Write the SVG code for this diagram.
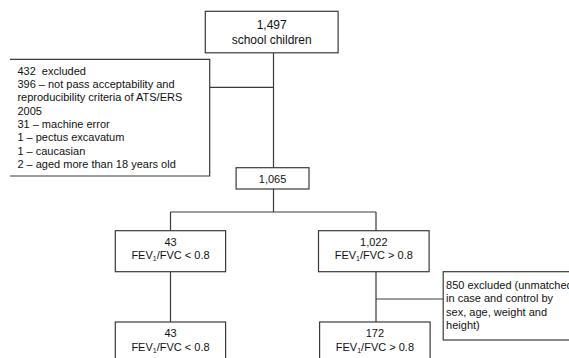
<svg xmlns="http://www.w3.org/2000/svg" width="569" height="358" viewBox="0 0 569 358">
<style>
.box{fill:#fff;stroke:#3a3a3a;stroke-width:1.2}
.ln{fill:none;stroke:#3a3a3a;stroke-width:1.2}
text{font-family:"Liberation Sans",Arial,sans-serif;font-size:11px;fill:#111}
.c{text-anchor:middle}
.sub{font-size:7px}
</style>
<rect width="569" height="358" fill="#fff"/>
<g id="connectors">
<path class="ln" d="M273.5,53V168M209.7,87.3H273.5M273.5,189V212M170.5,212H376M170.5,212V231M376,212V231M170.5,272V322M376,272V322M376,299H443.2"/>
</g>
<g id="n1497">
<rect class="box" x="205.3" y="11.3" width="132.8" height="41.5"/>
<text class="c" x="271.7" y="29.3" style="font-size:12px">1,497</text>
<text class="c" x="271.7" y="43.5" style="font-size:12px">school children</text>
</g>
<g id="excluded432">
<path class="box" d="M10,59.3H209.7V176H10"/>
<text x="17.4" y="74.7" xml:space="preserve">432  excluded</text>
<text x="17.4" y="88">396 – not pass acceptability and</text>
<text x="17.4" y="101.3">reproducibility criteria of ATS/ERS</text>
<text x="17.4" y="114.7">2005</text>
<text x="17.4" y="128">31 – machine error</text>
<text x="17.4" y="141.3">1 – pectus excavatum</text>
<text x="17.4" y="154.7">1 – caucasian</text>
<text x="17.4" y="168">2 – aged more than 18 years old</text>
</g>
<g id="n1065">
<rect class="box" x="236.1" y="167.7" width="72.9" height="21.3"/>
<text class="c" x="272.6" y="182.7">1,065</text>
</g>
<g id="n43a">
<rect class="box" x="115.3" y="230.7" width="110.3" height="41"/>
<text class="c" x="170.5" y="245.6">43</text>
<text class="c" x="170.5" y="259">FEV<tspan class="sub" dy="2">1</tspan><tspan dy="-2">/FVC &lt; 0.8</tspan></text>
</g>
<g id="n1022">
<rect class="box" x="318.5" y="230.7" width="110.6" height="41"/>
<text class="c" x="373.8" y="245.6">1,022</text>
<text class="c" x="373.8" y="259">FEV<tspan class="sub" dy="2">1</tspan><tspan dy="-2">/FVC &gt; 0.8</tspan></text>
</g>
<g id="excluded850">
<rect class="box" x="443.2" y="271.7" width="140" height="68.3"/>
<text x="446.1" y="289">850 excluded (unmatched</text>
<text x="446.1" y="302.3">in case and control by</text>
<text x="446.1" y="315.7">sex, age, weight and</text>
<text x="446.1" y="329">height)</text>
</g>
<g id="n43b">
<rect class="box" x="115.3" y="322" width="110.3" height="50"/>
<text class="c" x="170.5" y="337.3">43</text>
<text class="c" x="170.5" y="350.6">FEV<tspan class="sub" dy="2">1</tspan><tspan dy="-2">/FVC &lt; 0.8</tspan></text>
</g>
<g id="n172">
<rect class="box" x="319.6" y="322" width="110.5" height="50"/>
<text class="c" x="374.9" y="337.3">172</text>
<text class="c" x="374.9" y="350.6">FEV<tspan class="sub" dy="2">1</tspan><tspan dy="-2">/FVC &gt; 0.8</tspan></text>
</g>
</svg>
